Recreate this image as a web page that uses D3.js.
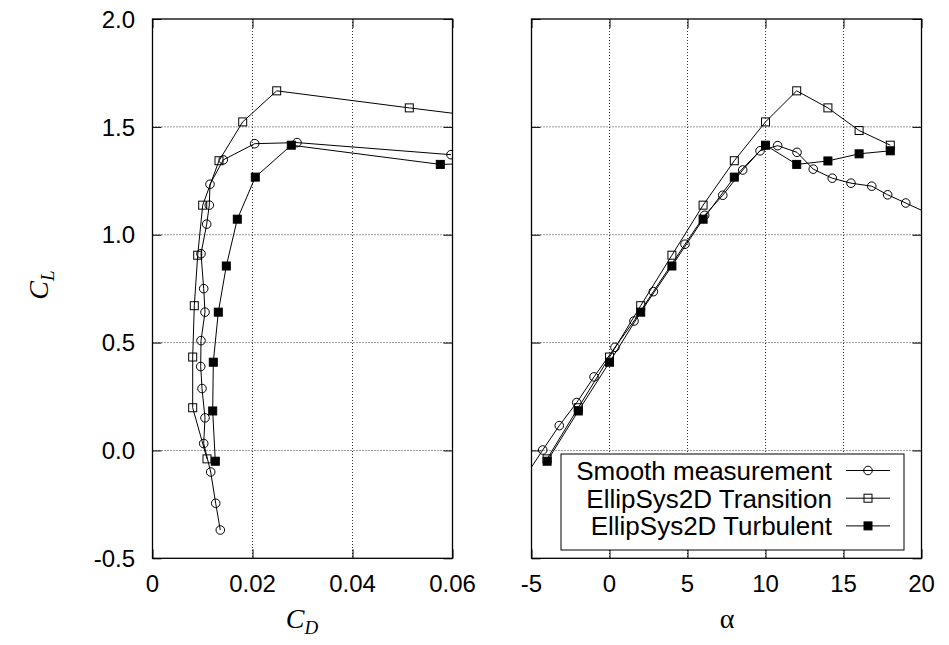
<!DOCTYPE html>
<html>
<head>
<meta charset="utf-8">
<script src="https://cdn.jsdelivr.net/npm/d3@7"></script>
<style>
  body { margin: 0; background: #fff; }
</style>
</head>
<body>
<svg id="chart" width="949" height="645"></svg>
<script>
// Smooth measurement, lift curve (alpha, CL)
const smoothAlpha = [-5.3, -4.28, -3.22, -2.1, -0.99, 0.35, 1.57, 2.81, 4.84, 6.1, 7.26, 8.54, 9.65, 10.78, 12.02, 13.06, 14.28, 15.48, 16.81, 17.83, 18.99, 20.4];
const smoothCL = [-0.11, 0.002, 0.115, 0.222, 0.341, 0.478, 0.600, 0.736, 0.956, 1.090, 1.183, 1.300, 1.389, 1.413, 1.382, 1.304, 1.262, 1.239, 1.225, 1.185, 1.147, 1.10];

// Smooth measurement, polar (CD, CL)
const smoothPolarCD = [0.01356, 0.01264, 0.01164, 0.01024, 0.0105, 0.0099, 0.00964, 0.0097, 0.0105, 0.01024, 0.0097, 0.01084, 0.01136, 0.0115, 0.01416, 0.02044, 0.0289, 0.0597];
const smoothPolarCL = [-0.369, -0.245, -0.100, 0.032, 0.151, 0.287, 0.389, 0.509, 0.641, 0.750, 0.912, 1.049, 1.137, 1.234, 1.347, 1.422, 1.427, 1.371];

// EllipSys2D computations
const simAlpha = [-4, -2, 0, 2, 4, 6, 8, 10, 12, 14, 16, 18];
const transCL = [-0.039, 0.198, 0.433, 0.671, 0.905, 1.137, 1.343, 1.523, 1.667, 1.588, 1.483, 1.415];
const transCD = [0.0109, 0.00804, 0.00804, 0.00836, 0.00904, 0.01004, 0.0133, 0.01804, 0.02484, 0.05136, 0.088, 0.11];
const turbCL = [-0.050, 0.183, 0.409, 0.641, 0.855, 1.072, 1.267, 1.415, 1.326, 1.342, 1.375, 1.389];
const turbCD = [0.01256, 0.01204, 0.01216, 0.01316, 0.01476, 0.01696, 0.02056, 0.02776, 0.05756, 0.085, 0.11, 0.13];

// Axis ticks
const clTicks = [-0.5, 0, 0.5, 1.0, 1.5, 2.0];
const cdTicks = [0, 0.02, 0.04, 0.06];
const alphaTicks = [-5, 0, 5, 10, 15, 20];

const legendLabels = ['Smooth measurement', 'EllipSys2D Transition', 'EllipSys2D Turbulent'];
const markerKinds = ['circle', 'square', 'filled'];

const sans = '"Liberation Sans", Arial, sans-serif';
const serif = '"Liberation Serif", "Times New Roman", serif';

const svg = d3.select('#chart');
const yTop = 19, yBottom = 558.3;

const y = d3.scaleLinear().domain([-0.5, 2]).range([yBottom, yTop]);
const xCD = d3.scaleLinear().domain([0, 0.06]).range([152.5, 452.5]);
const xA = d3.scaleLinear().domain([-5, 20]).range([531.5, 921.5]);

const zip = (a, b) => a.map((v, i) => [v, b[i]]);

function drawMarker(g, kind, cx, cy) {
  if (kind === 'circle') {
    g.append('circle').attr('cx', cx).attr('cy', cy).attr('r', 4.3)
      .attr('fill', 'none').attr('stroke', '#000').attr('stroke-width', 1);
  } else {
    g.append('rect').attr('x', cx - 4).attr('y', cy - 4).attr('width', 8).attr('height', 8)
      .attr('fill', kind === 'filled' ? '#000' : 'none')
      .attr('stroke', '#000').attr('stroke-width', 1);
  }
}

function panel(id, x, xTicks, fmt, series) {
  const [x0, x1] = x.range();
  const g = svg.append('g');

  g.append('clipPath').attr('id', id)
    .append('rect').attr('x', x0).attr('y', yTop).attr('width', x1 - x0).attr('height', yBottom - yTop);

  // grid
  const grid = g.append('g').attr('stroke', '#333').attr('stroke-width', 1).attr('stroke-dasharray', '1,2');
  xTicks.slice(1, -1).forEach((t) => {
    grid.append('line').attr('x1', x(t)).attr('x2', x(t)).attr('y1', yTop).attr('y2', yBottom);
  });
  clTicks.slice(1, -1).forEach((t) => {
    grid.append('line').attr('x1', x0).attr('x2', x1).attr('y1', y(t)).attr('y2', y(t));
  });

  // inward ticks on all four sides
  const noDomain = (a) => a.select('.domain').remove();
  g.append('g').attr('transform', `translate(0,${yBottom})`)
    .call(d3.axisBottom(x).tickValues(xTicks).tickSize(-9).tickFormat('')).call(noDomain);
  g.append('g').attr('transform', `translate(0,${yTop})`)
    .call(d3.axisTop(x).tickValues(xTicks).tickSize(-9).tickFormat('')).call(noDomain);
  g.append('g').attr('transform', `translate(${x0},0)`)
    .call(d3.axisLeft(y).tickValues(clTicks).tickSize(-9).tickFormat('')).call(noDomain);
  g.append('g').attr('transform', `translate(${x1},0)`)
    .call(d3.axisRight(y).tickValues(clTicks).tickSize(-9).tickFormat('')).call(noDomain);

  // x tick labels
  g.append('g').selectAll('text').data(xTicks).join('text')
    .attr('x', (d) => x(d)).attr('y', 592)
    .attr('text-anchor', 'middle').style('font-family', sans).style('font-size', '24px')
    .text(fmt);

  // series
  const plot = g.append('g').attr('clip-path', `url(#${id})`);
  const line = d3.line().x((d) => x(d[0])).y((d) => y(d[1]));
  series.forEach((s) => {
    plot.append('path').attr('d', line(s.pts)).attr('fill', 'none')
      .attr('stroke', '#000').attr('stroke-width', 1);
    s.pts.forEach((p) => drawMarker(plot, s.kind, x(p[0]), y(p[1])));
  });

  // frame
  g.append('rect').attr('x', x0).attr('y', yTop).attr('width', x1 - x0).attr('height', yBottom - yTop)
    .attr('fill', 'none').attr('stroke', '#000').attr('stroke-width', 1.3);
  return g;
}

const left = panel('clipL', xCD, cdTicks, (d) => (d === 0 ? '0' : d.toFixed(2)), [
  { kind: 'circle', pts: zip(smoothPolarCD, smoothPolarCL) },
  { kind: 'square', pts: zip(transCD, transCL) },
  { kind: 'filled', pts: zip(turbCD, turbCL) },
]);

// y tick labels (left panel only)
left.append('g').selectAll('text').data(clTicks).join('text')
  .attr('x', 135).attr('y', (d) => y(d)).attr('dy', '0.36em')
  .attr('text-anchor', 'end').style('font-family', sans).style('font-size', '24px')
  .text((d) => d.toFixed(1));

const right = panel('clipR', xA, alphaTicks, (d) => String(d), [
  { kind: 'circle', pts: zip(smoothAlpha, smoothCL) },
  { kind: 'square', pts: zip(simAlpha, transCL) },
  { kind: 'filled', pts: zip(simAlpha, turbCL) },
]);

// legend
const lg = right.append('g');
lg.append('rect').attr('x', 561).attr('y', 454).attr('width', 343).attr('height', 96)
  .attr('fill', '#fff').attr('stroke', '#000').attr('stroke-width', 1);
legendLabels.forEach((lab, i) => {
  const cy = 470.5 + i * 27.7;
  lg.append('text').attr('x', 832).attr('y', cy).attr('dy', '0.36em')
    .attr('text-anchor', 'end').style('font-family', sans).style('font-size', '26px').text(lab);
  lg.append('line').attr('x1', 846).attr('x2', 890).attr('y1', cy).attr('y2', cy)
    .attr('stroke', '#000').attr('stroke-width', 1);
  drawMarker(lg, markerKinds[i], 868, cy);
});

// axis titles
const cdLab = svg.append('text').attr('x', 302).attr('y', 628).attr('text-anchor', 'middle')
  .style('font-family', serif).style('font-style', 'italic').style('font-size', '28px');
cdLab.append('tspan').text('C');
cdLab.append('tspan').style('font-size', '19px').attr('dy', 6).text('D');

svg.append('text').attr('x', 727).attr('y', 628).attr('text-anchor', 'middle')
  .style('font-family', serif).style('font-size', '28px').text('α');

const clLab = svg.append('text').attr('transform', 'translate(48,285) rotate(-90)').attr('text-anchor', 'middle')
  .style('font-family', serif).style('font-style', 'italic').style('font-size', '28px');
clLab.append('tspan').text('C');
clLab.append('tspan').style('font-size', '19px').attr('dy', 6).text('L');
</script>
</body>
</html>
